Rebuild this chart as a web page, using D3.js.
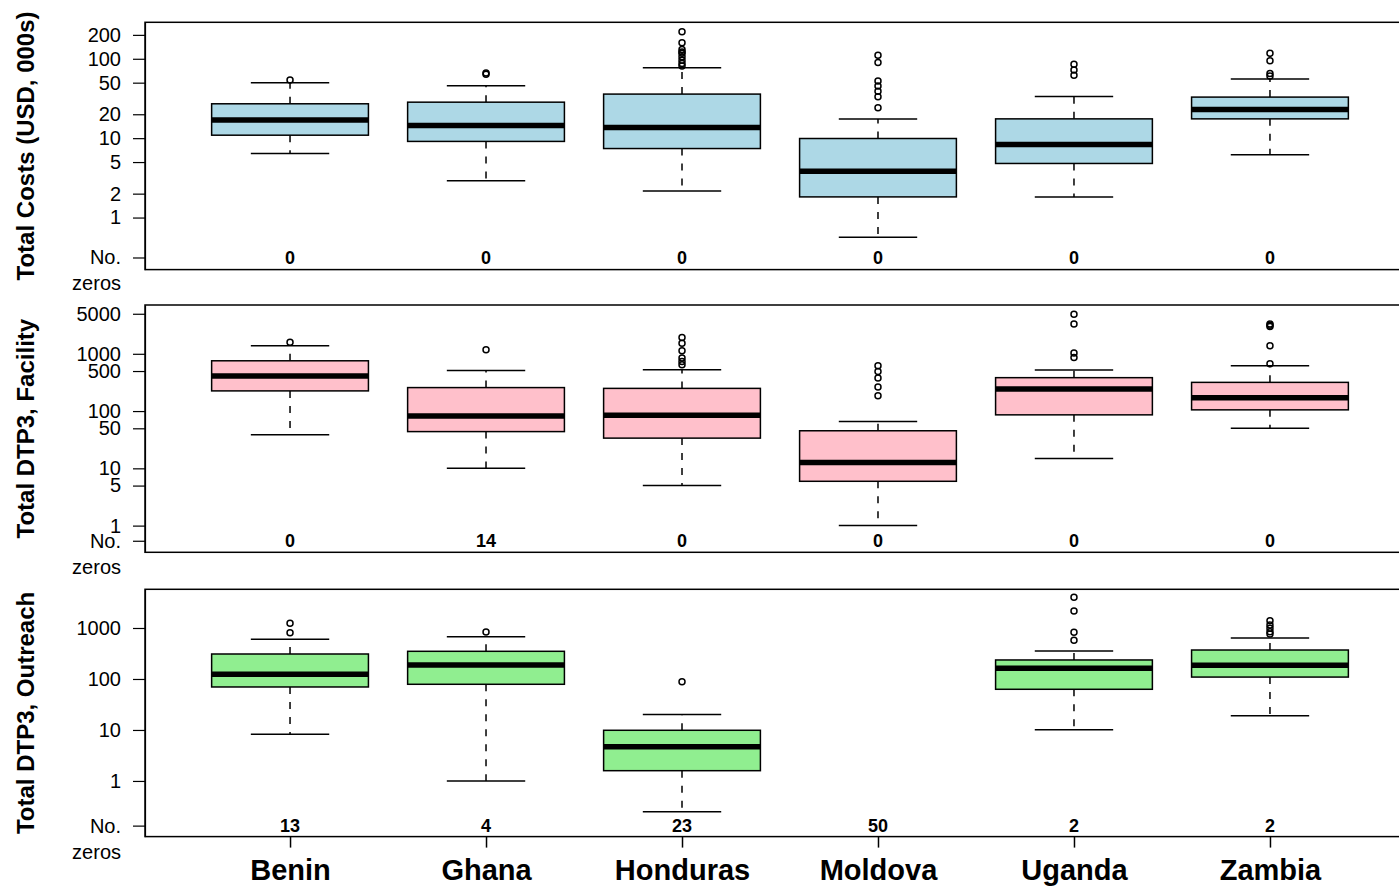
<!DOCTYPE html>
<html>
<head>
<meta charset="utf-8">
<script src="https://cdn.jsdelivr.net/npm/d3@7"></script>
<style>
  html, body { margin: 0; padding: 0; background: #fff; }
  svg { display: block; }
  text { font-family: "Liberation Sans", Arial, Helvetica, sans-serif; fill: #000; }
</style>
</head>
<body>
<svg id="chart" width="1399" height="887"></svg>
<script>
// ---------------- DATA ----------------
const countries = ["Benin", "Ghana", "Honduras", "Moldova", "Uganda", "Zambia"];

// Panel 1: Total Costs (USD, 000s)  — [lower whisker, Q1, median, Q3, upper whisker]
const costStats = [
  [6.4, 10.9, 16.9, 27.1, 49.8],
  [2.9, 9.1, 14.4, 28.4, 45.6],
  [2.16, 7.4, 13.6, 35.9, 77],
  [0.565, 1.82, 3.84, 9.9, 17.4],
  [1.82, 4.8, 8.3, 17.5, 33.6],
  [6.16, 17.5, 23, 32.9, 55.5]
];
const costOutliers = [
  [53.9],
  [63.6, 66],
  [219, 159, 131, 122, 117, 106, 96, 87.5, 81],
  [111, 90, 52.3, 45.3, 39.1, 33.2, 24.1],
  [85, 72, 61.8],
  [117, 94.4, 65.4, 60.5]
];
const costZeros = [0, 0, 0, 0, 0, 0];
const costTicks = [1, 2, 5, 10, 20, 50, 100, 200];

// Panel 2: Total DTP3, Facility
const facilityStats = [
  [38.5, 225, 409, 755, 1377],
  [10.0, 43.8, 82.2, 257, 513],
  [5.0, 33.7, 84.5, 249, 527],
  [1.0, 5.94, 12.6, 45.3, 65.7],
  [14.9, 85.9, 243, 383, 521],
  [50.2, 105, 170, 317, 618]
];
const facilityOutliers = [
  [1597],
  [1174],
  [1920, 1535, 1128, 842, 735, 644],
  [618, 492, 378, 264, 186],
  [4900, 3323, 1029, 862],
  [3300, 3150, 3000, 1377, 670]
];
const facilityZeros = [0, 14, 0, 0, 0, 0];
const facilityTicks = [1, 5, 10, 50, 100, 500, 1000, 5000];

// Panel 3: Total DTP3, Outreach (Moldova: all zeros, no box)
const outreachStats = [
  [8.24, 69.7, 124, 309, 600],
  [1.0, 78.7, 188, 349, 675],
  [0.25, 1.59, 4.71, 9.86, 20],
  null,
  [10.1, 62.8, 162, 236, 354],
  [19.1, 109, 186, 370, 637]
];
const outreachOutliers = [
  [1236, 809],
  [835],
  [88.5],
  [],
  [4000, 2154, 824, 574],
  [1390, 1145, 986, 846, 763]
];
const outreachZeros = [13, 4, 23, 50, 2, 2];
const outreachTicks = [1, 10, 100, 1000];

const titles = ["Total Costs (USD, 000s)", "Total DTP3, Facility", "Total DTP3, Outreach"];
const fills = ["#ADD8E6", "#FFC0CB", "#90EE90"];

// ---------------- LAYOUT ----------------
const svg = d3.select("#chart");
const plotLeft = 145, plotRight = 1415;
const panelTops = [22.3, 305, 589.3];
const panelHeight = 247.3;
// log-scale extents (R default: data range + 4%)
const yDomains = [[0.221, 288], [0.342, 7112], [0.081, 5741]];
// position for "No. zeros" row
const zeroRow = [0.314, 0.544, 0.133];

const x = d3.scalePoint().domain(countries).range([plotLeft, plotRight]).padding(0.74);
const step = x.step();

const panels = [
  { stats: costStats, out: costOutliers, zeros: costZeros, ticks: costTicks },
  { stats: facilityStats, out: facilityOutliers, zeros: facilityZeros, ticks: facilityTicks },
  { stats: outreachStats, out: outreachOutliers, zeros: outreachZeros, ticks: outreachTicks }
];

panels.forEach((p, i) => {
  const top = panelTops[i], bottom = top + panelHeight;
  const y = d3.scaleLog().domain(yDomains[i]).range([bottom, top]);
  const g = svg.append("g");

  // y axis ticks
  const yt = p.ticks.concat([zeroRow[i]]);
  const ax = d3.axisLeft(y).tickValues(yt).tickSize(12).tickSizeOuter(0).tickPadding(12)
    .tickFormat(d => (d === zeroRow[i] ? "" : String(d)));
  const axG = g.append("g").attr("transform", `translate(${plotLeft},0)`).call(ax);
  axG.select(".domain").attr("stroke", "#000").attr("stroke-width", 1.2);
  axG.selectAll(".tick line").attr("stroke", "#000").attr("stroke-width", 1.2);
  axG.selectAll(".tick text").attr("font-size", 20).attr("font-family", "Liberation Sans, Arial, sans-serif").attr("fill", "#000");

  // "No. zeros" label
  const nz = g.append("text").attr("text-anchor", "end").attr("font-size", 20)
    .attr("x", plotLeft - 24).attr("y", y(zeroRow[i])).attr("dy", "0.35em");
  nz.append("tspan").attr("x", plotLeft - 24).text("No.");
  nz.append("tspan").attr("x", plotLeft - 24).attr("dy", 26).text("zeros");

  // axis title
  g.append("text").attr("transform", `translate(26,${top + panelHeight / 2}) rotate(-90)`)
    .attr("text-anchor", "middle").attr("dy", "0.35em")
    .attr("font-size", 24).attr("font-weight", "bold").text(titles[i]);

  const bw = step * 0.4, cw = step * 0.2;
  countries.forEach((c, j) => {
    const cx = x(c);
    const s = p.stats[j];
    if (s) {
      const [lo, q1, med, q3, hi] = s;
      // whiskers
      g.append("line").attr("x1", cx).attr("x2", cx).attr("y1", y(q1)).attr("y2", y(lo))
        .attr("stroke", "#000").attr("stroke-width", 1.5).attr("stroke-dasharray", "7,8");
      g.append("line").attr("x1", cx).attr("x2", cx).attr("y1", y(q3)).attr("y2", y(hi))
        .attr("stroke", "#000").attr("stroke-width", 1.5).attr("stroke-dasharray", "7,8");
      // caps
      [lo, hi].forEach(v => g.append("line").attr("x1", cx - cw).attr("x2", cx + cw)
        .attr("y1", y(v)).attr("y2", y(v)).attr("stroke", "#000").attr("stroke-width", 1.5));
      // box
      g.append("rect").attr("x", cx - bw).attr("width", 2 * bw)
        .attr("y", y(q3)).attr("height", y(q1) - y(q3))
        .attr("fill", fills[i]).attr("stroke", "#000").attr("stroke-width", 1.5);
      // median
      g.append("line").attr("x1", cx - bw).attr("x2", cx + bw)
        .attr("y1", y(med)).attr("y2", y(med)).attr("stroke", "#000").attr("stroke-width", 5.5);
    }
    // outliers
    p.out[j].forEach(v => g.append("circle").attr("cx", cx).attr("cy", y(v)).attr("r", 3)
      .attr("fill", "none").attr("stroke", "#000").attr("stroke-width", 1.5));
    // zero counts
    g.append("text").attr("x", cx).attr("y", y(zeroRow[i])).attr("dy", "0.35em")
      .attr("text-anchor", "middle").attr("font-size", 18).attr("font-weight", "bold")
      .text(p.zeros[j]);
  });

  // panel frame
  g.append("rect").attr("x", plotLeft).attr("y", top).attr("width", plotRight - plotLeft)
    .attr("height", panelHeight).attr("fill", "none").attr("stroke", "#000").attr("stroke-width", 1.5);

  // x axis on the bottom panel
  if (i === 2) {
    const xa = d3.axisBottom(x).tickSize(11).tickSizeOuter(0).tickPadding(6);
    const xg = g.append("g").attr("transform", `translate(0,${bottom})`).call(xa);
    xg.select(".domain").remove();
    xg.selectAll(".tick line").attr("stroke", "#000").attr("stroke-width", 1.5);
    xg.selectAll(".tick text").attr("font-size", 29).attr("font-weight", "bold")
      .attr("font-family", "Liberation Sans, Arial, sans-serif").attr("fill", "#000")
      .attr("dy", "0.9em");
  }
});
</script>
</body>
</html>
